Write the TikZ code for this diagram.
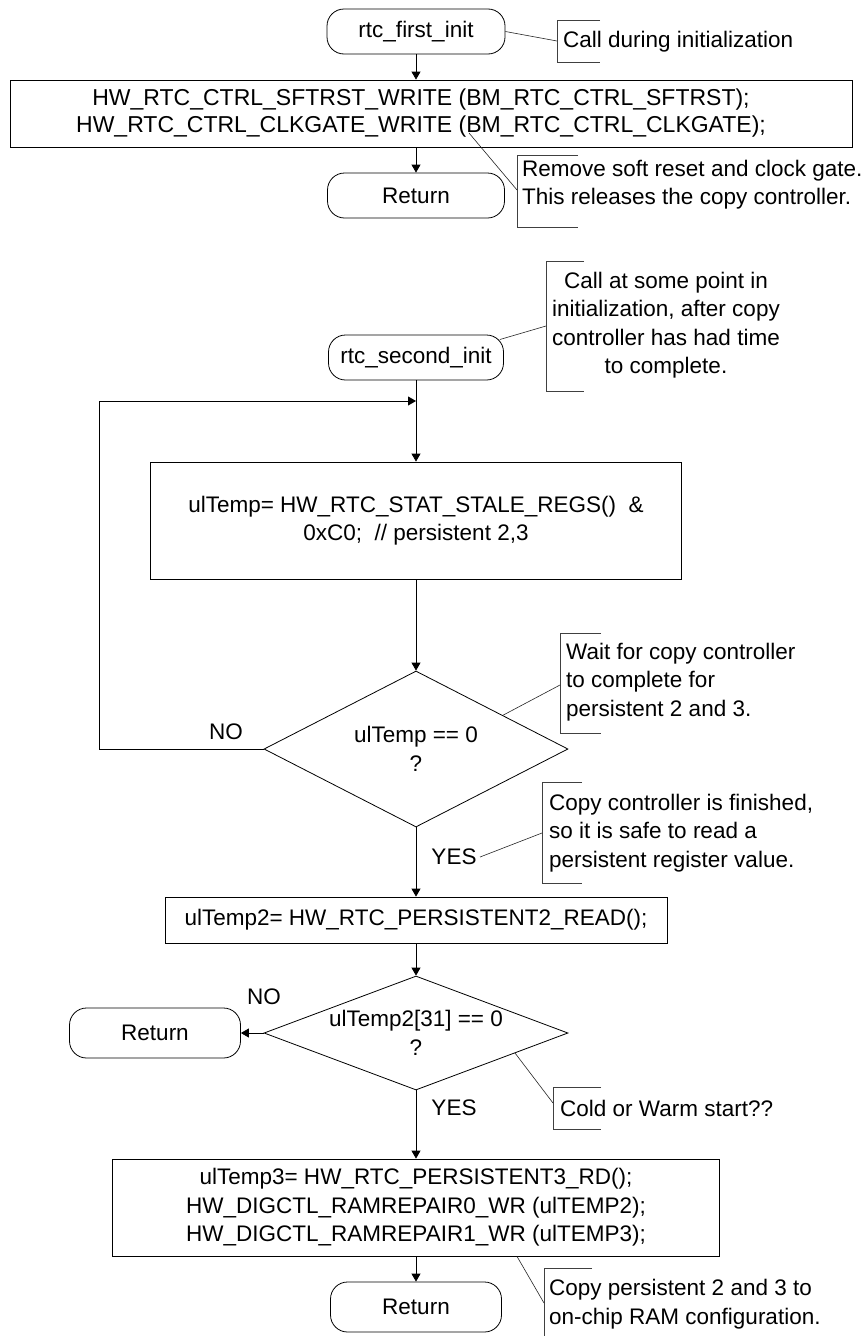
\documentclass[tikz,border=0pt]{standalone}
\usepackage{fontspec}
\setmainfont{Liberation Sans}
\usetikzlibrary{shapes.geometric,arrows.meta,calc}
\begin{document}
\begin{tikzpicture}[x=1pt,y=-1pt,
  every node/.style={font=\fontsize{22.5}{28.5}\selectfont},
  stadium/.style={draw, line width=0.8pt, rounded corners=17pt, inner sep=0pt},
  proc/.style={draw, line width=0.8pt, inner sep=0pt, align=center},
  dec/.style={draw, line width=0.8pt, diamond, inner sep=0pt},
  arr/.style={line width=0.8pt, -{Triangle[length=8pt,width=9pt]}},
  brk/.style={line width=0.8pt, draw=black!75},
  note/.style={line width=0.6pt, draw=black!85},
  ann/.style={anchor=west, align=left, inner sep=0pt}
]
\useasboundingbox (0,0) rectangle (862,1336);
\fill[white] (0,0) rectangle (862,1336);

% main flow nodes
\node[stadium, minimum width=178pt, minimum height=45pt] (first) at (416,31.5) {rtc\_first\_init};
\node[proc, minimum width=842pt, minimum height=67pt] (box1) at (431,113.5) {};
\node[align=center, inner sep=0pt, font=\fontsize{23}{27}\selectfont] (box1t) at (421,113)
  {HW\_RTC\_CTRL\_SFTRST\_WRITE (BM\_RTC\_CTRL\_SFTRST);\\HW\_RTC\_CTRL\_CLKGATE\_WRITE (BM\_RTC\_CTRL\_CLKGATE);};
\node[stadium, minimum width=177pt, minimum height=45pt] (ret1) at (416,195.5) {Return};
\node[stadium, minimum width=175pt, minimum height=45pt] (second) at (416,357.5) {rtc\_second\_init};
\node[proc, minimum width=531pt, minimum height=117pt] (box2) at (416,520.5)
  {ulTemp= HW\_RTC\_STAT\_STALE\_REGS()\ \ \&\\0xC0;\ \ // persistent 2,3};
\node[dec, minimum width=304pt, minimum height=156pt] (dia1) at (416,749) {};
\node[align=center, inner sep=0pt] (t1) at (416,749) {ulTemp == 0\\?};
\node[proc, minimum width=502pt, minimum height=46pt] (box3) at (416,920) {ulTemp2= HW\_RTC\_PERSISTENT2\_READ();};
\node[dec, minimum width=304pt, minimum height=114pt] (dia2) at (416,1033) {};
\node[align=center, inner sep=0pt] (t2) at (416,1033) {ulTemp2[31] == 0\\?};
\node[stadium, minimum width=171pt, minimum height=50pt] (ret2) at (155,1033) {Return};
\node[proc, minimum width=607pt, minimum height=97pt] (box4) at (416,1207.5)
  {ulTemp3= HW\_RTC\_PERSISTENT3\_RD();\\HW\_DIGCTL\_RAMREPAIR0\_WR (ulTEMP2);\\HW\_DIGCTL\_RAMREPAIR1\_WR (ulTEMP3);};
\node[stadium, minimum width=171pt, minimum height=50pt] (ret3) at (416,1307) {Return};

% branch labels
\node (no1) at (226,732) {NO};
\node (yes1) at (454,857) {YES};
\node (no2) at (264,997) {NO};
\node (yes2) at (454,1108) {YES};

% connectors
\draw[arr] (first.south) -- (first.south |- box1.north);
\draw[arr] (ret1.north |- box1.south) -- (ret1.north);
\coordinate (loopBL) at (99,749);
\coordinate (loopT) at (416,401);
\draw[arr] (second.south) -- (box2.north);
\draw[arr] (dia1.west) -- (loopBL) |- (loopT);
\draw[arr] (box2.south) -- (dia1.north);
\draw[arr] (dia1.south) -- (box3.north);
\draw[arr] (box3.south) -- (dia2.north);
\draw[arr] (dia2.west) -- (ret2.east);
\draw[arr] (dia2.south) -- (box4.north);
\draw[arr] (box4.south) -- (ret3.north);

% annotation 1
\node[ann] (n1) at (563,42) {Call during initialization};
\draw[brk] (600,20) -| (557,62) -- (600,62);
\coordinate (b1) at (557,41);
\draw[note] (first.east) -- (b1);

% annotation 2
\node[ann] (n2) at (522,184.5) {Remove soft reset and clock gate.\\This releases the copy controller.};
\draw[brk] (578,155) -| (517,227) -- (578,227);
\coordinate (bm) at (469,133);
\coordinate (b2) at (517,190);
\draw[note] (bm) -- (b2);

% annotation 3
\node[align=center, inner sep=0pt] (n3) at (666,325) {Call at some point in\\initialization, after copy\\controller has had time\\to complete.};
\draw[brk] (584,261) -| (546,391) -- (584,391);
\coordinate (b3) at (546,326);
\draw[note] ($(second.east)+(-4,-18)$) -- (b3);

% annotation 4
\node[ann] (n4) at (566,682) {Wait for copy controller\\to complete for\\persistent 2 and 3.};
\draw[brk] (601,633) -| (560,733) -- (601,733);
\coordinate (b4) at (560,685);
\draw[note] ($(dia1.north)!0.57!(dia1.east)$) -- (b4);

% annotation 5
\node[ann] (n5) at (549,833) {Copy controller is finished,\\so it is safe to read a\\persistent register value.};
\draw[brk] (582,782) -| (542,883) -- (582,883);
\coordinate (b5) at (542,833);
\draw[note] (yes1.east) -- (b5);

% annotation 6
\node[ann] (n6) at (560,1108) {Cold or Warm start??};
\draw[brk] (601,1087) -| (553,1129) -- (601,1129);
\coordinate (b6) at (553,1103);
\draw[note] ($(dia2.east)!0.35!(dia2.south)$) -- (b6);

% annotation 7
\node[ann] (n7) at (549,1304) {Copy persistent 2 and 3 to\\on-chip RAM configuration.};
\draw[brk] (592,1268) -- (544,1268) -- (544,1336);
\coordinate (b7) at (544,1303);
\draw[note] ($(box4.south)+(101,0)$) -- (b7);
\end{tikzpicture}
\end{document}
